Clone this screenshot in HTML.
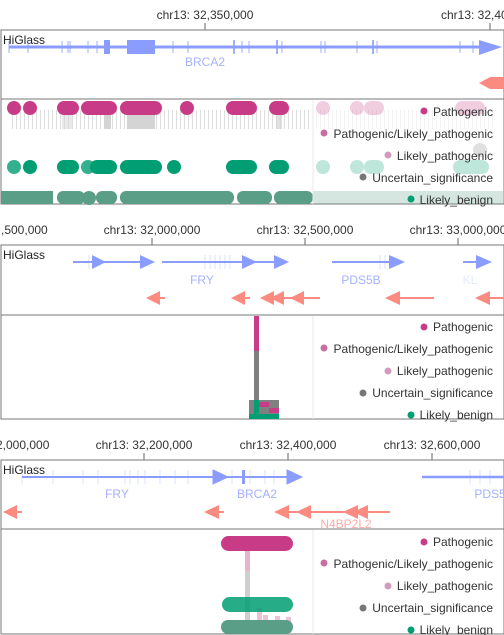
<!DOCTYPE html>
<html><head><meta charset="utf-8"><style>
html,body{margin:0;padding:0;background:#fff}
svg{display:block}
text{font-family:"Liberation Sans",Arial,sans-serif}
</style></head><body>
<svg width="504" height="635" viewBox="0 0 504 635" xmlns="http://www.w3.org/2000/svg">
<defs>
<pattern id="str" width="4" height="20" patternUnits="userSpaceOnUse"><rect x="0" y="0" width="1" height="20" fill="#bdbdbd"/></pattern>
</defs>
<!-- ========== PANEL 1 ========== -->
<g font-size="12" fill="#333">
<text x="205" y="19" text-anchor="middle">chr13: 32,350,000</text>
<text x="441" y="19">chr13: 32,400,000</text>
</g>
<line x1="205" y1="23" x2="205" y2="30" stroke="#666"/>
<line x1="490" y1="23" x2="490" y2="30" stroke="#666"/>
<rect x="1" y="30" width="503" height="69" fill="none" stroke="#777"/>
<text x="3" y="44" font-size="12" fill="#222">HiGlass</text>
<g fill="#8b9cff" stroke="#8b9cff">
<line x1="9" y1="47" x2="490" y2="47" stroke-width="3"/>
<rect x="104" y="40" width="6" height="14" stroke="none"/>
<rect x="127" y="40" width="28" height="14" stroke="none"/>
<polygon points="479,40 502,47 479,55" stroke="none"/>
<g stroke-width="1" opacity="0.8">
<line x1="28" y1="41" x2="28" y2="53"/><line x1="62" y1="41" x2="62" y2="53"/><line x1="68" y1="41" x2="68" y2="53"/><line x1="70" y1="41" x2="70" y2="53"/>
<line x1="88" y1="41" x2="88" y2="53"/><line x1="97" y1="41" x2="97" y2="53"/><line x1="173" y1="41" x2="173" y2="53"/><line x1="188" y1="41" x2="188" y2="53"/>
<line x1="234" y1="40" x2="234" y2="54" stroke-width="2"/><line x1="242" y1="41" x2="242" y2="53"/><line x1="249" y1="41" x2="249" y2="53"/>
<line x1="277" y1="40" x2="277" y2="54" stroke-width="2"/><line x1="282" y1="41" x2="282" y2="53"/><line x1="321" y1="41" x2="321" y2="53"/><line x1="325" y1="41" x2="325" y2="53"/>
<line x1="357" y1="41" x2="357" y2="53"/><line x1="373" y1="40" x2="373" y2="54" stroke-width="2"/><line x1="377" y1="41" x2="377" y2="53"/>
<line x1="460" y1="41" x2="460" y2="53"/><line x1="473" y1="41" x2="473" y2="53"/><line x1="9" y1="41" x2="9" y2="53"/>
</g>
</g>
<text x="205" y="66" font-size="12" fill="#a6b1ff" text-anchor="middle">BRCA2</text>
<polygon points="479,83 490,77 504,77 504,89 490,89" fill="#fb8a80"/>
<rect x="1" y="99" width="503" height="105" fill="none" stroke="#777"/>
<!-- gray ticks -->
<rect x="9" y="110" width="300" height="19" fill="url(#str)" opacity="0.5"/>
<rect x="313" y="110" width="180" height="19" fill="url(#str)" opacity="0.2"/>
<g fill="#d4d4d4">
<rect x="104" y="112" width="7" height="17"/>
<rect x="127" y="112" width="28" height="17"/>
<rect x="62" y="112" width="10" height="17" opacity="0.5"/>
<rect x="276" y="112" width="6" height="17" opacity="0.7"/>
</g>
<g fill="#c83c87">
<circle cx="14" cy="108" r="7"/><circle cx="30" cy="108" r="7"/>
<rect x="57" y="101" width="22" height="14" rx="7"/>
<rect x="81" y="101" width="36" height="14" rx="7"/>
<rect x="120" y="101" width="42" height="14" rx="7"/>
<circle cx="187" cy="108" r="7"/>
<rect x="226" y="101" width="31" height="14" rx="7"/>
<rect x="269" y="101" width="20" height="14" rx="7"/>
</g>
<g fill="#009e72">
<circle cx="14" cy="167" r="7" opacity="0.8"/><circle cx="30" cy="167" r="7"/>
<rect x="57" y="160" width="22" height="14" rx="7"/>
<circle cx="88" cy="167" r="7" opacity="0.8"/>
<rect x="90" y="160" width="27" height="14" rx="7"/>
<rect x="120" y="160" width="42" height="14" rx="7"/>
<circle cx="174" cy="167" r="7"/>
<rect x="226" y="160" width="31" height="14" rx="7"/>
<rect x="269" y="160" width="20" height="14" rx="7"/>
</g>
<g fill="#5a9e88">
<rect x="1" y="191" width="52" height="13"/>
<rect x="57" y="191" width="28" height="13" rx="6"/>
<circle cx="89" cy="198" r="7"/>
<rect x="96" y="191" width="21" height="13" rx="6"/>
<rect x="120" y="191" width="114" height="13" rx="6"/>
<rect x="237" y="191" width="35" height="13" rx="6"/>
<rect x="274" y="191" width="39" height="13" rx="6"/>
</g>
<g opacity="0.25">
<g fill="#c83c87"><circle cx="323" cy="108" r="7"/><circle cx="357" cy="108" r="7"/><rect x="364" y="101" width="20" height="14" rx="7"/><rect x="455" y="101" width="30" height="14" rx="7"/></g>
<g fill="#009e72"><circle cx="323" cy="167" r="7"/><circle cx="357" cy="167" r="7"/><rect x="364" y="160" width="20" height="14" rx="7"/><rect x="453" y="160" width="36" height="14" rx="7"/></g>
<rect x="313" y="191" width="190" height="13" fill="#5a9e88"/>
<circle cx="480" cy="150" r="7" fill="#888"/>
</g>
<line x1="313" y1="100" x2="313" y2="204" stroke="#e8e8e8"/>
<g font-size="12" fill="#333" text-anchor="end">
<text x="493" y="116">Pathogenic</text>
<text x="493" y="138">Pathogenic/Likely_pathogenic</text>
<text x="493" y="160">Likely_pathogenic</text>
<text x="493" y="182">Uncertain_significance</text>
<text x="493" y="204">Likely_benign</text>
</g>
<circle cx="424" cy="111" r="3.5" fill="#c83c87"/>
<circle cx="324" cy="133" r="3.5" fill="#c86ea0"/>
<circle cx="388" cy="155" r="3.5" fill="#d29bbb"/>
<circle cx="363" cy="177" r="3.5" fill="#777"/>
<circle cx="411" cy="199" r="3.5" fill="#009e72"/>

<!-- ========== PANEL 2 ========== -->
<g font-size="12" fill="#333">
<text x="1" y="234">,500,000</text>
<text x="152" y="234" text-anchor="middle">chr13: 32,000,000</text>
<text x="305" y="234" text-anchor="middle">chr13: 32,500,000</text>
<text x="458" y="234" text-anchor="middle">chr13: 33,000,000</text>
</g>
<g stroke="#666"><line x1="152" y1="238" x2="152" y2="245"/><line x1="305" y1="238" x2="305" y2="245"/><line x1="458" y1="238" x2="458" y2="245"/></g>
<rect x="1" y="245" width="503" height="70" fill="none" stroke="#777"/>
<text x="3" y="259" font-size="12" fill="#222">HiGlass</text>
<g fill="#8b9cff" stroke="#8b9cff" stroke-width="2">
<line x1="73" y1="262" x2="145" y2="262"/><polygon points="92,255 106,262 92,269" stroke="none"/><polygon points="140,255 155,262 140,269" stroke="none"/>
<line x1="162" y1="262" x2="280" y2="262"/><polygon points="242,255 257,262 242,269" stroke="none"/><polygon points="274,255 289,262 274,269" stroke="none"/>
<line x1="332" y1="262" x2="395" y2="262"/><polygon points="389,255 405,262 389,269" stroke="none"/>
<line x1="463" y1="262" x2="480" y2="262"/><polygon points="476,255 492,262 476,269" stroke="none"/>
</g>
<g stroke="#8b9cff" opacity="0.3"><line x1="205" y1="255" x2="205" y2="269"/><line x1="210" y1="255" x2="210" y2="269"/><line x1="215" y1="255" x2="215" y2="269"/><line x1="220" y1="255" x2="220" y2="269"/><line x1="225" y1="255" x2="225" y2="269"/><line x1="230" y1="255" x2="230" y2="269"/><line x1="89" y1="255" x2="89" y2="269"/><line x1="385" y1="255" x2="385" y2="269"/><line x1="380" y1="255" x2="380" y2="269"/></g>
<g font-size="12" fill="#a6b1ff" text-anchor="middle"><text x="202" y="284">FRY</text><text x="361" y="284">PDS5B</text><text x="470" y="284" opacity="0.3">KL</text></g>
<g fill="#fb8a80" stroke="#fb8a80" stroke-width="2">
<polygon points="146,298 160,291 160,305" stroke="none"/><line x1="155" y1="298" x2="165" y2="298"/>
<polygon points="231,298 245,291 245,305" stroke="none"/><line x1="240" y1="298" x2="250" y2="298"/>
<polygon points="260,298 274,291 274,305" stroke="none"/><polygon points="270,298 284,291 284,305" stroke="none"/><polygon points="290,298 304,291 304,305" stroke="none"/><line x1="270" y1="298" x2="320" y2="298"/>
<polygon points="385,298 400,291 400,305" stroke="none"/><line x1="395" y1="298" x2="434" y2="298"/>
<polygon points="475,298 490,291 490,305" stroke="none"/><line x1="485" y1="298" x2="504" y2="298"/>
</g>
<rect x="1" y="315" width="503" height="104" fill="none" stroke="#777"/>
<rect x="254" y="316" width="5" height="35" fill="#c83c87"/>
<rect x="254" y="351" width="5" height="50" fill="#808080"/>
<rect x="249" y="400" width="30" height="19" fill="#808080"/>
<rect x="254" y="400" width="5" height="19" fill="#009e72"/>
<rect x="259" y="402" width="10" height="5" fill="#c83c87"/>
<rect x="269" y="408" width="10" height="5" fill="#c83c87"/>
<rect x="249" y="414" width="30" height="5" fill="#009e72"/>
<line x1="313" y1="316" x2="313" y2="419" stroke="#e8e8e8"/>
<g font-size="12" fill="#333" text-anchor="end">
<text x="493" y="331">Pathogenic</text>
<text x="493" y="353">Pathogenic/Likely_pathogenic</text>
<text x="493" y="375">Likely_pathogenic</text>
<text x="493" y="397">Uncertain_significance</text>
<text x="493" y="419">Likely_benign</text>
</g>
<circle cx="424" cy="327" r="3.5" fill="#c83c87"/>
<circle cx="324" cy="348" r="3.5" fill="#c86ea0"/>
<circle cx="388" cy="371" r="3.5" fill="#d29bbb"/>
<circle cx="363" cy="393" r="3.5" fill="#777"/>
<circle cx="411" cy="415" r="3.5" fill="#009e72"/>

<!-- ========== PANEL 3 ========== -->
<g font-size="12" fill="#333">
<text x="-4" y="449">2,000,000</text>
<text x="144" y="449" text-anchor="middle">chr13: 32,200,000</text>
<text x="288" y="449" text-anchor="middle">chr13: 32,400,000</text>
<text x="432" y="449" text-anchor="middle">chr13: 32,600,000</text>
</g>
<g stroke="#666"><line x1="144" y1="453" x2="144" y2="460"/><line x1="288" y1="453" x2="288" y2="460"/><line x1="432" y1="453" x2="432" y2="460"/></g>
<rect x="1" y="460" width="503" height="69" fill="none" stroke="#777"/>
<text x="3" y="474" font-size="12" fill="#222">HiGlass</text>
<g fill="#8b9cff" stroke="#8b9cff">
<line x1="22" y1="477" x2="290" y2="477" stroke-width="2"/>
<polygon points="213,470 228,477 213,484"/><polygon points="287,470 302,477 287,484"/>
<rect x="242" y="470" width="3" height="14" stroke="none"/>
<line x1="422" y1="477" x2="504" y2="477" stroke-width="2.5"/>
<g opacity="0.3"><line x1="125" y1="470" x2="125" y2="484"/><line x1="130" y1="470" x2="130" y2="484"/><line x1="138" y1="470" x2="138" y2="484"/><line x1="145" y1="470" x2="145" y2="484"/><line x1="160" y1="470" x2="160" y2="484"/><line x1="175" y1="470" x2="175" y2="484"/><line x1="22" y1="470" x2="22" y2="484"/><line x1="470" y1="470" x2="470" y2="484"/><line x1="480" y1="470" x2="480" y2="484"/><line x1="490" y1="470" x2="490" y2="484"/><line x1="53" y1="470" x2="53" y2="484"/><line x1="83" y1="470" x2="83" y2="484"/><line x1="98" y1="470" x2="98" y2="484"/><line x1="188" y1="470" x2="188" y2="484"/><line x1="232" y1="470" x2="232" y2="484"/><line x1="250" y1="470" x2="250" y2="484"/><line x1="265" y1="470" x2="265" y2="484"/><line x1="274" y1="470" x2="274" y2="484"/></g>
</g>
<g font-size="12" fill="#a6b1ff" text-anchor="middle"><text x="117" y="498">FRY</text><text x="257" y="498">BRCA2</text><text x="490" y="498">PDS5</text></g>
<text x="346" y="528" font-size="12" fill="#fb8a80" text-anchor="middle" opacity="0.7">N4BP2L2</text>
<g fill="#fb8a80" stroke="#fb8a80" stroke-width="2">
<polygon points="3,512 17,505 17,519" stroke="none"/><line x1="12" y1="512" x2="22" y2="512"/>
<polygon points="204,512 219,505 219,519" stroke="none"/><line x1="214" y1="512" x2="224" y2="512"/>
<polygon points="274,512 289,505 289,519" stroke="none"/><polygon points="296,512 311,505 311,519" stroke="none"/><polygon points="343,512 358,505 358,519" stroke="none"/><polygon points="353,512 368,505 368,519" stroke="none"/>
<line x1="284" y1="512" x2="390" y2="512"/>
</g>
<rect x="1" y="529" width="503" height="105" fill="none" stroke="#777"/>
<rect x="245" y="545" width="5" height="26" fill="#e8b4cc"/>
<rect x="245" y="571" width="5" height="63" fill="#cfcfcf"/>
<g fill="#e8b4cc" opacity="0.8"><rect x="257" y="608" width="5" height="26"/><rect x="263" y="615" width="5" height="19"/><rect x="275" y="616" width="5" height="18"/><rect x="286" y="617" width="5" height="17"/></g>
<g fill="#c83c87"><rect x="221" y="536" width="72" height="15" rx="7.5"/></g>
<g fill="#009e72"><rect x="222" y="597" width="71" height="15" rx="7.5" opacity="0.85"/></g>
<g fill="#5a9e88"><rect x="221" y="620" width="72" height="14" rx="7"/></g>
<line x1="313" y1="530" x2="313" y2="634" stroke="#e8e8e8"/>
<g font-size="12" fill="#333" text-anchor="end">
<text x="493" y="546">Pathogenic</text>
<text x="493" y="568">Pathogenic/Likely_pathogenic</text>
<text x="493" y="590">Likely_pathogenic</text>
<text x="493" y="612">Uncertain_significance</text>
<text x="493" y="634">Likely_benign</text>
</g>
<circle cx="424" cy="542" r="3.5" fill="#c83c87"/>
<circle cx="324" cy="563" r="3.5" fill="#c86ea0"/>
<circle cx="388" cy="586" r="3.5" fill="#d29bbb"/>
<circle cx="363" cy="608" r="3.5" fill="#777"/>
<circle cx="411" cy="630" r="3.5" fill="#009e72"/>
</svg>
</body></html>
